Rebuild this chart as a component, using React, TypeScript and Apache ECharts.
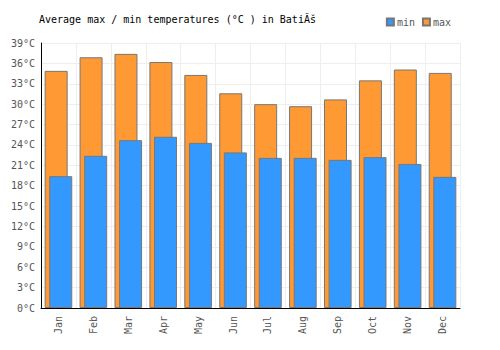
import React, { useEffect, useRef } from "react";
import * as echarts from "echarts";

const months = ["Jan", "Feb", "Mar", "Apr", "May", "Jun", "Jul", "Aug", "Sep", "Oct", "Nov", "Dec"];
const maxTemps = [34.9, 36.9, 37.4, 36.2, 34.3, 31.6, 30.0, 29.7, 30.7, 33.5, 35.1, 34.6];
const minTemps = [19.4, 22.4, 24.7, 25.2, 24.3, 22.9, 22.1, 22.1, 21.8, 22.2, 21.2, 19.3];
const titleText = "Average max / min temperatures (°C ) in BatiĂš";

const FONT = "DejaVu Sans Mono";

export default function App() {
  const ref = useRef<HTMLDivElement>(null);
  useEffect(() => {
    if (!ref.current) return;
    const chart = echarts.init(ref.current, null, { renderer: "svg" });
    chart.setOption({
      animation: false,
      backgroundColor: "#fff",
      title: {
        text: titleText,
        left: 34,
        top: 9,
        textStyle: { fontFamily: FONT, fontSize: 10, fontWeight: "normal", color: "#000" },
      },
      legend: {
        data: ["min", "max"],
        right: 44,
        top: 12,
        icon: "rect",
        itemWidth: 7,
        itemHeight: 7,
        itemGap: 7,
        textStyle: { fontFamily: FONT, fontSize: 10, color: "#555", padding: [0, 0, 0, -2] },
      },
      grid: { left: 41, right: 40, top: 43, bottom: 42 },
      xAxis: {
        type: "category",
        data: months,
        axisLine: { lineStyle: { color: "#000", width: 1 } },
        axisTick: { show: false },
        axisLabel: { rotate: 90, fontFamily: FONT, fontSize: 10, color: "#555", margin: 8 },
        splitLine: { show: true, lineStyle: { color: "#eee" } },
      },
      yAxis: {
        type: "value",
        min: 0,
        max: 39,
        interval: 3,
        axisLine: { show: true, lineStyle: { color: "#000", width: 1 } },
        axisTick: { show: false },
        axisLabel: { formatter: "{value}°C", fontFamily: FONT, fontSize: 10, color: "#555", margin: 6 },
        splitLine: { show: true, lineStyle: { color: "#eee" } },
      },
      series: [
        {
          name: "max",
          type: "bar",
          data: maxTemps,
          barWidth: 23,
          barGap: "-80%",
          itemStyle: { color: "#ff9933", borderColor: "#777", borderWidth: 1 },
        },
        {
          name: "min",
          type: "bar",
          data: minTemps,
          barWidth: 23,
          itemStyle: { color: "#3399ff", borderColor: "#777", borderWidth: 1 },
        },
      ],
    });
    return () => chart.dispose();
  }, []);
  return <div ref={ref} style={{ width: 500, height: 350, margin: -8 }} />;
}
